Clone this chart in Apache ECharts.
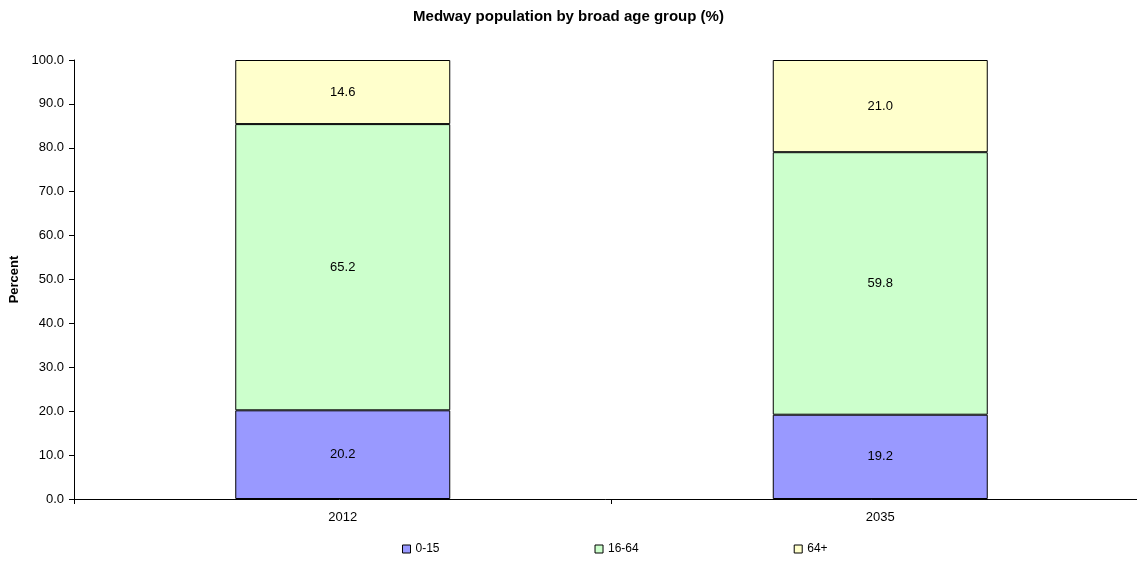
<!DOCTYPE html>
<html>
<head>
<meta charset="utf-8">
<script src="https://cdn.jsdelivr.net/npm/echarts@6/dist/echarts.min.js"></script>
<style>
html,body{margin:0;padding:0;background:#fff;}
#chart{width:1137px;height:561px;}
</style>
</head>
<body>
<div id="chart"></div>
<script>
var titleText = 'Medway population by broad age group (%)';
var categories = ['2012', '2035'];
var seriesNames = ['0-15', '16-64', '64+'];
var age0to15 = [20.2, 19.2];
var age16to64 = [65.2, 59.8];
var age64plus = [14.6, 21.0];
var colors = ['#9999FF', '#CCFFCC', '#FFFFCC'];

var font = 'Liberation Sans, Arial, sans-serif';
var dataSets = [age0to15, age16to64, age64plus];

var chart = echarts.init(document.getElementById('chart'));
chart.setOption({
  animation: false,
  backgroundColor: '#fff',
  title: {
    text: titleText,
    left: 'center',
    top: 4,
    textStyle: {fontFamily: font, fontSize: 15, fontWeight: 'bold', color: '#000'}
  },
  legend: {
    left: 397,
    top: 538,
    itemGap: 155,
    itemWidth: 8,
    itemHeight: 8,
    icon: 'rect',
    textStyle: {fontFamily: font, fontSize: 12, color: '#000'},
    data: seriesNames.map(function (n, i) {
      return {name: n, itemStyle: {color: colors[i], borderColor: '#000', borderWidth: 1}};
    })
  },
  grid: {left: 74, right: -12, top: 60, bottom: 62, containLabel: false, outerBoundsMode: 'none'},
  xAxis: {
    type: 'category',
    data: categories,
    axisLine: {lineStyle: {color: '#000', width: 1}},
    axisTick: {show: true, length: 5, lineStyle: {color: '#000'}},
    axisLabel: {fontFamily: font, fontSize: 13, color: '#000', margin: 12}
  },
  yAxis: {
    type: 'value',
    min: 0,
    max: 100,
    interval: 10,
    name: 'Percent',
    nameLocation: 'middle',
    nameGap: 50,
    nameTextStyle: {fontFamily: font, fontSize: 13, fontWeight: 'bold', color: '#000'},
    axisLine: {show: true, lineStyle: {color: '#000', width: 1}},
    axisTick: {show: true, length: 5, lineStyle: {color: '#000'}},
    splitLine: {show: false},
    axisLabel: {
      fontFamily: font, fontSize: 13, color: '#000', margin: 10,
      formatter: function (v) { return v.toFixed(1); }
    }
  },
  series: seriesNames.map(function (n, i) {
    return {
      name: n,
      type: 'bar',
      stack: 'total',
      barWidth: '40%',
      data: dataSets[i],
      itemStyle: {color: colors[i], borderColor: '#000', borderWidth: 1},
      label: {
        show: true,
        position: 'inside',
        fontFamily: font,
        fontSize: 13,
        color: '#000',
        formatter: function (p) { return Number(p.value).toFixed(1); }
      }
    };
  })
});
</script>
</body>
</html>
